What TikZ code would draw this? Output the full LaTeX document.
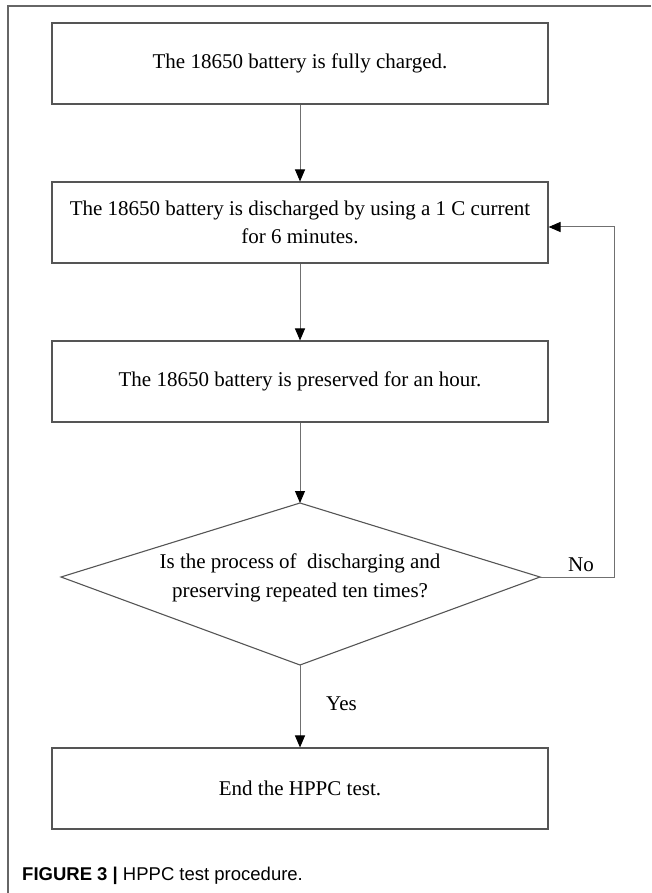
\documentclass[tikz,border=0pt]{standalone}
\usepackage{fontspec}
\setmainfont{Liberation Serif}
\newfontfamily\capfont{Liberation Sans}
\usetikzlibrary{arrows.meta}
\definecolor{framegray}{HTML}{666666}
\definecolor{boxgray}{HTML}{555555}
\definecolor{linegray}{HTML}{707070}
\tikzset{
  stepbox/.style={draw=boxgray, line width=1.1pt, minimum width=496pt, minimum height=81pt,
    align=center, inner sep=0pt, font=\fontsize{21}{27.5}\selectfont},
  conn/.style={draw=linegray, line width=1pt, -{Triangle[length=12pt,width=10pt,color=black]}},
  lbl/.style={font=\fontsize{21}{28.5}\selectfont, inner sep=0pt}
}
\begin{document}
\begin{tikzpicture}[x=1pt,y=1pt]
\useasboundingbox (0,0) rectangle (651,-893);
% frame corner
\draw[framegray, line width=1.5pt] (8,-893) -- (8,-6) -- (651,-6);
% boxes
\node[stepbox] (b1) at (300,-63.5) {The 18650 battery is fully charged.};
\node[stepbox] (b2) at (300,-222.5) {The 18650 battery is discharged by using a 1 C current\\for 6 minutes.};
\node[stepbox] (b3) at (300,-381.5) {The 18650 battery is preserved for an hour.};
\node[stepbox] (b5) at (300,-788.5) {End the HPPC test.};
% decision
\coordinate (dt) at (300,-503);
\coordinate (dl) at (61,-577);
\coordinate (dr) at (540,-577);
\coordinate (db) at (300,-665);
\draw[draw=boxgray, line width=1.1pt] (dt) -- (dr) -- (db) -- (dl) -- cycle;
\node[lbl, align=center] (dq) at (300,-578) {Is the process of~ discharging and\\preserving repeated ten times?};
% connectors
\draw[conn] (b1.south) -- (b2.north);
\draw[conn] (b2.south) -- (b3.north);
\draw[conn] (b3.south) -- (dt);
\draw[conn] (db) -- (b5.north);
\coordinate (lc) at (614,-577);
\coordinate (b2in) at ([yshift=-4.5pt]b2.east);
\draw[conn] (dr) -- (lc) |- (b2in);
% labels
\node[lbl] (no) at (581,-565) {No};
\node[lbl, anchor=west] (yes) at (326,-704) {Yes};
% caption
\node[anchor=west, inner sep=0pt, font=\capfont\fontsize{18.5}{22}\selectfont] (cap) at (22,-876) {\textbf{FIGURE 3 |} HPPC test procedure.};
\end{tikzpicture}
\end{document}
